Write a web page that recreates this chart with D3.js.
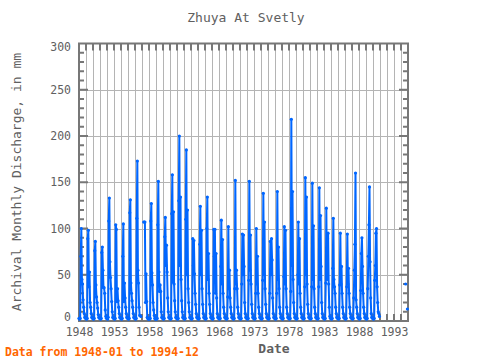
<!DOCTYPE html>
<html><head><meta charset="utf-8">
<script src="https://cdn.jsdelivr.net/npm/d3@7/dist/d3.min.js"></script>
<style>body{margin:0;background:#fff}svg{display:block}</style>
</head><body>
<svg id="c" width="480" height="360"></svg>
<script>
const startYear = 1948;
const endYear = 1995;
const yTickValues = [0, 50, 100, 150, 200, 250, 300];
const xTickYears = [1948, 1953, 1958, 1963, 1968, 1973, 1978, 1983, 1988, 1993];
const titleText = "Zhuya At Svetly";
const yLabelText = "Archival Monthly Discharge, in mm";
const xLabelText = "Date";
const footerText = "Data from 1948-01 to 1994-12";
const N = null;
// monthly discharge, Jan..Dec per row, starting 1948-01
const discharge = [
  3,2,3,70,100,45,40,23,15,8,4,3,        // 1948
  3,2,3,89,98,37,53,20,15,8,4,3,         // 1949
  3,2,3,76,86,39,26,20,14,7,4,3,         // 1950
  3,2,3,74,80,55,36,36,30,12,5,3,        // 1951
  3,2,4,108,133,64,47,35,21,10,4,3,      // 1952
  3,2,3,104,99,21,35,22,15,8,4,3,        // 1953
  3,2,3,70,105,21,41,25,15,8,4,3,        // 1954
  3,2,3,117,131,41,30,22,15,8,4,3,       // 1955
  3,2,3,111,173,55,41,15,6,N,5,N,        // 1956
  N,N,N,107,107,107,20,51,21,4,3,2,      // 1957
  3,2,3,108,127,52,39,20,12,6,3,2,       // 1958
  3,2,3,104,151,53,32,39,32,10,4,3,      // 1959
  3,2,3,91,112,60,82,53,25,10,4,3,       // 1960
  3,2,3,116,158,42,118,40,22,10,4,3,     // 1961
  3,2,3,130,200,60,134,45,22,10,4,3,     // 1962
  3,2,3,110,185,50,120,35,20,10,4,3,     // 1963
  3,2,3,89,60,87,51,30,18,8,4,3,         // 1964
  3,2,3,83,124,50,98,35,18,8,4,3,        // 1965
  3,2,3,100,134,45,73,30,18,8,4,3,       // 1966
  3,2,3,99,70,99,30,73,25,8,4,3,         // 1967
  3,2,3,59,109,40,88,30,15,8,4,3,        // 1968
  3,2,3,26,102,35,55,25,15,8,4,3,        // 1969
  3,2,3,35,152,40,55,35,15,8,4,3,        // 1970
  3,2,3,40,94,50,93,59,20,8,4,3,         // 1971
  3,2,3,44,151,55,93,40,18,8,4,3,        // 1972
  3,2,3,30,100,40,70,30,15,8,4,3,        // 1973
  3,2,3,44,138,50,107,35,18,8,4,3,       // 1974
  3,2,3,30,86,50,89,66,25,8,4,3,         // 1975
  3,2,3,30,140,45,80,35,15,8,4,3,        // 1976
  3,2,3,48,102,40,98,35,15,8,4,3,        // 1977
  3,2,3,32,218,60,140,45,20,8,4,3,       // 1978
  3,2,3,50,107,40,89,30,15,8,4,3,        // 1979
  3,2,3,37,155,50,134,40,18,8,4,3,       // 1980
  3,2,3,37,149,45,103,35,15,8,4,3,       // 1981
  3,2,3,37,144,45,114,59,20,8,4,3,       // 1982
  3,2,3,41,122,45,89,95,40,15,5,3,       // 1983
  3,2,3,57,111,45,37,30,15,8,4,3,        // 1984
  3,2,3,39,95,40,59,30,15,8,4,3,         // 1985
  3,2,3,37,94,40,57,30,15,8,4,3,         // 1986
  3,2,3,25,55,83,160,23,15,8,4,3,        // 1987
  3,2,3,33,73,90,59,30,15,8,4,3,         // 1988
  3,2,3,35,70,104,145,64,25,8,4,3,       // 1989
  3,2,3,44,60,95,100,37,20,10,8,5,       // 1990
  N,N,N,N,N,N,N,N,N,N,N,N,               // 1991
  N,N,N,N,N,N,N,N,N,N,N,N,               // 1992
  N,N,N,N,N,N,N,N,N,N,N,N,               // 1993
  N,N,N,N,N,N,N,N,40,N,N,13              // 1994
];

const data = discharge.map((v, i) => ({t: startYear + i / 12, v: v}));

const svg = d3.select("#c");
svg.append("rect").attr("width", 480).attr("height", 360).attr("fill", "#fff");

const x = d3.scaleLinear().domain([startYear, endYear]).range([79, 408]);
const y = d3.scaleLinear().domain([0, 300]).range([321, 43.5]);
const gray = "#777";
const textGray = "#606060";
const font = "'DejaVu Sans Mono', monospace";

// grid
const grid = svg.append("g").attr("stroke", "#b4b4b4").attr("stroke-width", 1);
grid.selectAll("line.v").data(d3.range(startYear + 1, endYear)).join("line")
  .attr("x1", d => Math.round(x(d)) + 0.5).attr("x2", d => Math.round(x(d)) + 0.5)
  .attr("y1", y(300)).attr("y2", y(0));
grid.selectAll("line.h").data(yTickValues.slice(1, -1)).join("line")
  .attr("x1", x(startYear)).attr("x2", x(endYear))
  .attr("y1", d => Math.round(y(d)) + 0.5).attr("y2", d => Math.round(y(d)) + 0.5);

// inside ticks
const tk = svg.append("g").attr("stroke", gray).attr("stroke-width", 2);
const years = d3.range(startYear + 1, endYear);
tk.selectAll("line.t").data(years).join("line")
  .attr("x1", d => x(d)).attr("x2", d => x(d)).attr("y1", y(300)).attr("y2", y(300) + 7);
tk.selectAll("line.b").data(years).join("line")
  .attr("x1", d => x(d)).attr("x2", d => x(d)).attr("y1", y(0)).attr("y2", y(0) - 7);
const minor = d3.range(10, 300, 10);
tk.selectAll("line.l").data(minor).join("line")
  .attr("x1", x(startYear)).attr("x2", d => x(startYear) + (d % 50 === 0 ? 9 : 5))
  .attr("y1", d => y(d)).attr("y2", d => y(d));
tk.selectAll("line.r").data(minor).join("line")
  .attr("x1", x(endYear)).attr("x2", d => x(endYear) - (d % 50 === 0 ? 9 : 5))
  .attr("y1", d => y(d)).attr("y2", d => y(d));

// frame
svg.append("rect").attr("x", x(startYear)).attr("y", y(300))
  .attr("width", x(endYear) - x(startYear)).attr("height", y(0) - y(300))
  .attr("fill", "none").attr("stroke", gray).attr("stroke-width", 2);

// data line (drawn over the frame, as in the reference)
const line = d3.line().defined(d => d.v != null).x(d => x(d.t)).y(d => y(d.v));
svg.append("path").datum(data).attr("d", line)
  .attr("fill", "none").attr("stroke", "#0066ff").attr("stroke-width", 2)
  .attr("stroke-linejoin", "round");
svg.append("g").selectAll("circle").data(data.filter(d => d.v != null)).join("circle")
  .attr("cx", d => x(d.t)).attr("cy", d => y(d.v)).attr("r", 1.6).attr("fill", "#0066ff");

// axis labels
const ay = svg.append("g").attr("transform", `translate(${x(startYear)},0)`)
  .call(d3.axisLeft(y).tickValues(yTickValues).tickSize(0).tickPadding(8));
const ax = svg.append("g").attr("transform", `translate(0,${y(0)})`)
  .call(d3.axisBottom(x).tickValues(xTickYears).tickFormat(d3.format("d")).tickSize(0).tickPadding(7));
[ay, ax].forEach(g => {
  g.select(".domain").remove();
  g.selectAll("text").attr("fill", textGray).style("font-family", font).style("font-size", "11.5px");
});
// keep end labels inside the frame height, as in the reference
ay.selectAll(".tick text").attr("dy", d => d === 0 ? "-0.05em" : d === 300 ? "0.62em" : "0.32em");

svg.append("text").attr("x", 246).attr("y", 22).attr("text-anchor", "middle")
  .attr("fill", textGray).style("font-family", font).style("font-size", "13px").text(titleText);
svg.append("text").attr("transform", "translate(21,182) rotate(-90)").attr("text-anchor", "middle")
  .attr("fill", textGray).style("font-family", font).style("font-size", "13px").text(yLabelText);
svg.append("text").attr("x", 274).attr("y", 353).attr("text-anchor", "middle")
  .attr("fill", textGray).style("font-family", font).style("font-size", "13px").style("font-weight", "bold").text(xLabelText);
svg.append("text").attr("x", 5).attr("y", 356)
  .attr("fill", "#ff6600").style("font-family", font).style("font-size", "11.5px").style("font-weight", "bold").text(footerText);
</script>
</body></html>
